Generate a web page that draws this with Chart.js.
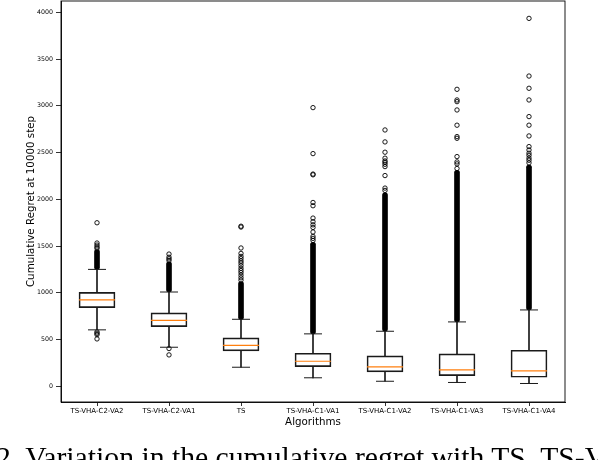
<!DOCTYPE html>
<html>
<head>
<meta charset="utf-8">
<script src="https://cdn.jsdelivr.net/npm/chart.js@4/dist/chart.umd.min.js"></script>
<style>
  html, body { margin: 0; padding: 0; background: #fff; overflow: hidden; }
  #wrap { position: relative; width: 598px; height: 460px; overflow: hidden; }
  #myChart { display: block; }
  #caption {
    position: absolute; left: -4px; top: 443px;
    font-family: "Liberation Serif", "DejaVu Serif", serif;
    font-size: 29.7px; line-height: 1; white-space: nowrap; color: #000;
  }
</style>
</head>
<body>
<div id="wrap">
  <canvas id="myChart" width="598" height="460"></canvas>
  <div id="caption">2. Variation in the cumulative regret with TS, TS-VHA-C2-VA2, TS-VHA-C2-VA1</div>
</div>
<script>
// values
var algorithms = ['TS-VHA-C2-VA2', 'TS-VHA-C2-VA1', 'TS', 'TS-VHA-C1-VA1', 'TS-VHA-C1-VA2', 'TS-VHA-C1-VA3', 'TS-VHA-C1-VA4'];
var q1 = [841, 638, 378, 210, 154, 114, 96];
var median = [923, 705, 438, 267, 207, 175, 164];
var q3 = [1004, 784, 517, 353, 325, 346, 385];
var whiskerLow = [603, 417, 203, 90, 53, 40, 29];
var whiskerHigh = [1250, 1008, 716, 560, 588, 688, 816];
// stretches where the outlier circles overlap into a solid column
var denseOutliers = [[1250, 1462], [1008, 1330], [716, 1120], [560, 1540], [588, 2070], [688, 2310], [816, 2365]];
var sparseOutliers = [
  [506, 552, 566, 581, 1475, 1490, 1510, 1532, 1749],
  [335, 403, 1345, 1362, 1380, 1414],
  [1135, 1160, 1188, 1215, 1238, 1262, 1290, 1318, 1340, 1365, 1389, 1421, 1479, 1703, 1712],
  [1560, 1582, 1603, 1650, 1699, 1727, 1760, 1799, 1931, 1966, 2262, 2270, 2489, 2981],
  [2095, 2120, 2254, 2350, 2375, 2395, 2410, 2440, 2504, 2614, 2742],
  [2330, 2379, 2400, 2457, 2653, 2671, 2793, 2956, 3045, 3063, 3177],
  [2390, 2418, 2440, 2470, 2493, 2528, 2564, 2678, 2793, 2885, 3063, 3188, 3319, 3936]
];
var yTicks = [0, 500, 1000, 1500, 2000, 2500, 3000, 3500, 4000];

var boxes = algorithms.map(function (a, i) { return [q1[i], q3[i]]; });
var lowWhiskers = algorithms.map(function (a, i) { return [whiskerLow[i], q1[i]]; });
var highWhiskers = algorithms.map(function (a, i) { return [q3[i], whiskerHigh[i]]; });
var medianPts = algorithms.map(function (a, i) { return { x: a, y: median[i] }; });
var capPts = [];
algorithms.forEach(function (a, i) {
  capPts.push({ x: a, y: whiskerLow[i] });
  capPts.push({ x: a, y: whiskerHigh[i] });
});
var outlierPts = [];
algorithms.forEach(function (a, i) {
  sparseOutliers[i].forEach(function (v) { outlierPts.push({ x: a, y: v }); });
});

// top and right spines
var frame = {
  id: 'frame',
  afterDatasetsDraw: function (chart) {
    var c = chart.chartArea, ctx = chart.ctx;
    ctx.save();
    ctx.strokeStyle = '#000';
    ctx.lineWidth = 0.9;
    ctx.strokeRect(c.left, c.top, c.right - c.left, c.bottom - c.top);
    ctx.restore();
  }
};

var dark = '#1a1a1a';
var tickFont = { family: 'DejaVu Sans', size: 6.3 };

var myChart = new Chart(document.getElementById('myChart').getContext('2d'), {
  type: 'bar',
  data: {
    labels: algorithms,
    datasets: [
      {
        type: 'scatter',
        data: medianPts,
        pointStyle: 'line',
        pointRadius: 18,
        borderColor: '#ff7f0e',
        borderWidth: 1.2,
        order: 0
      },
      {
        data: boxes,
        grouped: false,
        barThickness: 36,
        backgroundColor: 'rgba(255,255,255,0)',
        borderColor: dark,
        borderWidth: 1,
        borderSkipped: false,
        order: 1
      },
      {
        data: lowWhiskers,
        grouped: false,
        barThickness: 1,
        backgroundColor: dark,
        borderWidth: 0,
        order: 2
      },
      {
        data: highWhiskers,
        grouped: false,
        barThickness: 1,
        backgroundColor: dark,
        borderWidth: 0,
        order: 2
      },
      {
        type: 'scatter',
        data: capPts,
        pointStyle: 'line',
        pointRadius: 9,
        borderColor: dark,
        borderWidth: 1,
        order: 2
      },
      {
        data: denseOutliers,
        grouped: false,
        barThickness: 5,
        backgroundColor: '#000',
        borderWidth: 0,
        borderRadius: 2.5,
        borderSkipped: false,
        order: 3
      },
      {
        type: 'scatter',
        data: outlierPts,
        pointStyle: 'circle',
        pointRadius: 2.2,
        borderWidth: 0.9,
        borderColor: '#000',
        backgroundColor: 'rgba(0,0,0,0)',
        order: 3
      }
    ]
  },
  options: {
    responsive: false,
    animation: false,
    events: [],
    layout: { autoPadding: false, padding: { left: 0, right: 33, top: 1, bottom: 31 } },
    plugins: {
      legend: { display: false },
      tooltip: { enabled: false }
    },
    scales: {
      x: {
        type: 'category',
        offset: true,
        grid: { display: true, drawOnChartArea: false, offset: false, tickLength: 4, tickColor: '#000', tickWidth: 0.8 },
        border: { display: true, color: '#000', width: 0.9 },
        ticks: { color: '#000', font: { family: 'DejaVu Sans', size: 7 }, padding: 1, maxRotation: 0, autoSkip: false },
        title: { display: true, text: 'Algorithms', color: '#000', font: { family: 'DejaVu Sans', size: 10.3 }, padding: 0 },
        afterFit: function (scale) {
          scale.height = 27;
          scale.paddingLeft = 0;
          scale.paddingRight = 0;
        }
      },
      y: {
        min: -169,
        max: 4122,
        grid: { display: true, drawOnChartArea: false, tickLength: 5, tickColor: '#000', tickWidth: 0.8 },
        border: { display: true, color: '#000', width: 0.9 },
        ticks: {
          color: '#000', font: tickFont, padding: 3,
          callback: function (v) { return String(v); }
        },
        afterBuildTicks: function (scale) {
          scale.ticks = yTicks.map(function (v) { return { value: v }; });
        },
        title: {
          display: true, text: 'Cumulative Regret at 10000 step', color: '#000',
          font: { family: 'DejaVu Sans', size: 10.3 }, padding: { top: 25, bottom: 0 }
        },
        afterFit: function (scale) {
          scale.width = 61;
          scale.paddingTop = 0;
          scale.paddingBottom = 0;
        }
      }
    }
  },
  plugins: [frame]
});
</script>
</body>
</html>
